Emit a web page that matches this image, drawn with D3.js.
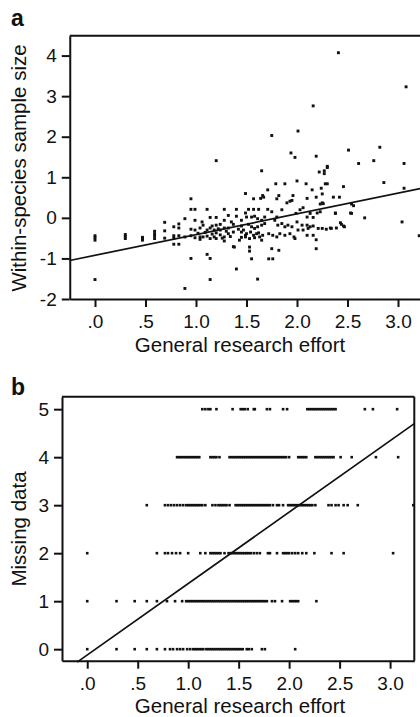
<!DOCTYPE html>
<html>
<head>
<meta charset="utf-8">
<script src="https://cdn.jsdelivr.net/npm/d3@7"></script>
<style>
  body { margin: 0; background: #fff; }
  text { font-family: "Liberation Sans", Arial, sans-serif; fill: #111; }
</style>
</head>
<body>
<script>

// panel a : general research effort vs within-species sample size
var pointsA = [
  [0.0,-0.44],[0.0,-0.49],[0.0,-0.55],[0.0,-1.52],
  [0.3,-0.41],[0.3,-0.46],[0.3,-0.51],
  [0.47,-0.48],[0.47,-0.51],[0.47,-0.55],
  [0.59,-0.33],[0.59,-0.39],[0.59,-0.45],[0.59,-0.51],
  [0.69,-0.11],[0.69,-0.32],[0.69,-0.5],
  [0.78,-0.22],[0.78,-0.44],[0.78,-0.5],[0.78,-0.65],
  [0.83,-0.15],[0.83,-0.25],[0.83,-0.44],[0.83,-0.65],
  [0.89,-1.74],[0.89,-0.02],[0.89,-0.47],
  [0.95,0.47],[0.95,0.21],[0.95,-0.28],[0.95,-0.44],[0.95,-1.0],
  [0.99,0.21],[0.99,-0.06],[0.99,-0.3],[0.99,-0.49],
  [1.02,-0.38],[1.04,-0.25],[1.04,-0.47],[1.04,-0.53],
  [1.06,-0.1],[1.07,-0.18],[1.07,-0.47],[1.09,-0.36],
  [1.11,0.21],[1.11,-0.3],[1.11,-0.45],[1.11,-0.9],
  [1.14,0.01],[1.14,-0.25],[1.14,-0.51],[1.14,-1.0],[1.14,-1.52],
  [1.16,-0.2],[1.16,-0.4],[1.18,-0.3],[1.18,-0.47],
  [1.2,1.41],[1.2,0.01],[1.2,-0.18],[1.2,-0.37],[1.2,-0.51],
  [1.22,-0.27],[1.24,-0.16],[1.24,-0.3],[1.24,-0.42],[1.26,-0.5],
  [1.28,0.21],[1.28,-0.06],[1.28,-0.25],[1.28,-0.47],[1.28,-0.57],
  [1.3,-0.33],[1.32,0.06],[1.32,-0.25],[1.32,-0.39],[1.34,-0.46],[1.35,-0.1],
  [1.37,-0.16],[1.37,-0.35],[1.37,-0.71],[1.38,-0.72],
  [1.4,0.21],[1.4,0.04],[1.4,-1.26],[1.42,-0.28],[1.43,-0.55],
  [1.45,-0.06],[1.45,-0.2],[1.45,-0.35],[1.45,-0.48],[1.47,-0.3],
  [1.49,0.6],[1.49,0.12],[1.49,-0.43],[1.49,-0.47],
  [1.5,0.02],[1.5,-0.39],[1.52,0.21],[1.52,-0.16],[1.53,-0.51],[1.53,-0.72],[1.53,-0.82],
  [1.54,-0.35],[1.55,0.02],[1.55,-0.22],[1.55,-1.01],[1.57,0.21],[1.57,0.47],[1.57,-0.43],
  [1.58,0.04],[1.58,-0.26],[1.58,-0.49],[1.6,-0.39],[1.61,-0.02],[1.61,-0.22],[1.61,-1.51],
  [1.62,0.21],[1.62,-0.37],[1.63,-0.47],[1.64,0.48],[1.65,1.16],[1.65,-0.06],[1.65,-0.18],
  [1.65,-0.55],[1.66,0.55],[1.66,-0.43],[1.67,0.51],[1.68,0.02],[1.68,-0.14],
  [1.71,0.69],[1.71,0.21],[1.72,-0.39],[1.72,-1.01],[1.75,2.03],[1.75,0.15],[1.75,-0.76],
  [1.76,-0.43],[1.76,-1.01],[1.78,-0.06],[1.79,0.84],[1.8,0.47],[1.8,0.02],[1.8,-0.47],
  [1.81,-0.18],[1.82,0.55],[1.82,-0.8],[1.83,-0.39],[1.85,0.2],[1.85,-0.14],
  [1.88,0.84],[1.88,-0.22],[1.88,-0.43],[1.9,0.37],[1.91,-0.18],[1.93,0.41],[1.93,-0.39],
  [1.94,1.6],[1.95,0.43],[1.95,-0.22],[1.96,0.55],[1.97,-0.47],[1.98,1.49],[1.98,-0.51],
  [1.99,0.11],[2.0,0.91],[2.0,-0.1],[2.01,2.14],[2.01,-0.3],[2.03,0.2],[2.05,-0.18],
  [2.06,0.25],[2.06,-0.3],[2.09,0.84],[2.1,0.48],[2.1,0.02],[2.1,-0.18],[2.1,-0.43],
  [2.11,-0.26],[2.13,0.11],[2.13,-0.22],[2.15,0.69],[2.16,2.76],[2.16,0.01],[2.16,-0.2],
  [2.16,-0.43],[2.19,1.52],[2.19,0.51],[2.19,-0.54],[2.19,-0.76],[2.2,0.12],[2.21,-0.26],
  [2.22,1.13],[2.23,0.34],[2.23,0.15],[2.24,0.73],[2.25,0.59],[2.25,0.37],[2.25,-0.26],
  [2.26,0.35],[2.27,1.16],[2.27,1.09],[2.28,0.84],[2.29,-0.28],[2.3,1.27],[2.3,1.24],
  [2.3,0.84],[2.33,-0.25],[2.34,-0.26],[2.36,0.51],[2.38,0.12],[2.38,0.11],[2.39,-0.25],
  [2.41,4.07],[2.42,0.51],[2.43,-0.12],[2.44,-0.16],[2.46,0.77],[2.46,-0.2],[2.47,-0.22],
  [2.51,1.67],[2.53,0.12],[2.54,0.34],[2.54,0.11],[2.56,0.3],[2.61,1.34],[2.67,0.0],
  [2.76,1.41],[2.82,1.74],[2.86,0.87],[3.04,-0.1],[3.06,1.34],[3.06,0.73],[3.08,3.23],
  [3.21,-0.44]
];
var fitA = [[-0.25,-1.05],[3.3,0.76]];
var ticksXA = [0, 0.5, 1, 1.5, 2, 2.5, 3];
var ticksYA = [-2, -1, 0, 1, 2, 3, 4];

// panel b : general research effort vs missing data, one row per count
var missing0 = [0.0,0.29,0.47,0.59,0.69,0.77,0.82,0.85,0.89,0.92,0.95,0.99,1.02,1.05,1.07,1.09,
  1.11,1.13,1.15,1.18,1.2,1.22,1.24,1.26,1.28,1.3,1.32,1.34,1.36,1.38,1.4,1.42,1.44,1.46,1.48,
  1.5,1.52,1.54,1.58,1.6,1.63,1.73,1.76,2.06];
var missing1 = [0.0,0.29,0.47,0.59,0.69,0.79,0.87,0.94,0.98,1.0,1.02,1.04,1.06,1.08,1.1,1.12,
  1.14,1.16,1.18,1.2,1.22,1.24,1.26,1.28,1.3,1.32,1.34,1.36,1.38,1.4,1.42,1.44,1.46,1.48,1.5,
  1.52,1.54,1.56,1.58,1.6,1.62,1.64,1.66,1.68,1.7,1.72,1.74,1.76,1.78,1.83,1.86,1.93,2.01,
  2.03,2.05,2.07,2.09,2.27];
var missing2 = [0.0,0.69,0.77,0.8,0.84,0.88,0.92,1.0,1.12,1.17,1.22,1.24,1.26,1.28,1.3,1.32,
  1.36,1.4,1.42,1.44,1.46,1.48,1.5,1.52,1.54,1.56,1.58,1.6,1.62,1.65,1.68,1.71,1.79,1.81,1.88,
  1.94,1.96,1.98,2.0,2.03,2.06,2.09,2.13,2.17,2.25,2.42,2.54,3.03];
var missing3 = [0.59,0.77,0.8,0.83,0.86,0.89,0.92,0.95,0.98,1.0,1.02,1.04,1.06,1.08,1.1,1.12,
  1.14,1.17,1.24,1.27,1.3,1.32,1.34,1.36,1.38,1.41,1.47,1.49,1.51,1.53,1.55,1.57,1.59,1.61,
  1.63,1.65,1.67,1.69,1.71,1.73,1.75,1.77,1.79,1.81,1.84,1.88,1.9,1.94,1.99,2.01,2.03,2.05,
  2.07,2.09,2.11,2.13,2.15,2.17,2.19,2.21,2.23,2.26,2.39,2.42,2.46,2.49,2.54,2.58,2.68,3.23];
var missing4 = [0.89,0.91,0.93,0.95,0.97,0.99,1.01,1.03,1.05,1.07,1.09,1.11,1.22,1.24,1.26,
  1.28,1.31,1.41,1.43,1.45,1.47,1.49,1.51,1.53,1.55,1.57,1.59,1.61,1.63,1.65,1.67,1.69,1.71,
  1.73,1.75,1.77,1.79,1.81,1.83,1.85,1.87,1.89,1.91,1.93,1.95,1.97,2.0,2.09,2.11,2.13,2.15,
  2.17,2.26,2.28,2.3,2.32,2.34,2.36,2.38,2.4,2.42,2.44,2.51,2.62,2.86,3.08];
var missing5 = [1.14,1.17,1.2,1.22,1.28,1.44,1.52,1.54,1.56,1.59,1.65,1.66,1.78,1.81,1.94,1.98,
  2.18,2.2,2.22,2.24,2.26,2.28,2.3,2.32,2.34,2.36,2.38,2.4,2.42,2.44,2.46,2.75,2.83,3.07];
var fitB = [[-0.1,-0.27],[3.24,4.7]];
var ticksXB = [0, 0.5, 1, 1.5, 2, 2.5, 3];
var ticksYB = [0, 1, 2, 3, 4, 5];

var width = 420,
    height = 717;

var svg = d3.select("body").append("svg")
    .attr("width", width)
    .attr("height", height);

var fmtX = function(d) { return d3.format(".1f")(d).replace(/^0/, ""); };

var xA = d3.scaleLinear().domain([-0.25, 3.25]).range([69.75, 423.25]),
    yA = d3.scaleLinear().domain([-2, 4.49]).range([299, 35.7]);

var xB = d3.scaleLinear().domain([-0.25, 3.24]).range([62, 414.3]),
    yB = d3.scaleLinear().domain([-0.24, 5.26]).range([660.7, 396.7]);

var rowsB = [missing0, missing1, missing2, missing3, missing4, missing5];
var pointsB = [];
rowsB.forEach(function(row, k) {
  row.forEach(function(v) { pointsB.push([v, k]); });
});

function styleAxis(g) {
  g.selectAll("path, line").attr("stroke", "#111").attr("stroke-width", 2);
  g.selectAll("text").attr("fill", "#111").style("font-size", "19px");
}

function drawPanel(x, y, pts, fit, ticksX, ticksY, size, boxRight, opts) {
  var g = svg.append("g");

  // frame: top edge (and right edge when it is on screen)
  g.append("line")
    .attr("x1", x.range()[0]).attr("x2", boxRight)
    .attr("y1", y.range()[1]).attr("y2", y.range()[1])
    .attr("stroke", "#111").attr("stroke-width", 2);
  if (boxRight < width) {
    g.append("line")
      .attr("x1", boxRight).attr("x2", boxRight)
      .attr("y1", y.range()[1]).attr("y2", y.range()[0])
      .attr("stroke", "#111").attr("stroke-width", 2);
  }

  g.append("g")
    .attr("transform", "translate(0," + y.range()[0] + ")")
    .call(d3.axisBottom(x).tickValues(ticksX).tickFormat(fmtX)
      .tickSize(8).tickSizeOuter(0).tickPadding(7.5))
    .call(styleAxis);

  g.append("g")
    .attr("transform", "translate(" + x.range()[0] + ",0)")
    .call(d3.axisLeft(y).tickValues(ticksY).tickFormat(function(d) { return String(d); })
      .tickSize(8).tickSizeOuter(0).tickPadding(5))
    .call(styleAxis);

  g.append("g").selectAll("rect")
    .data(pts)
    .enter().append("rect")
      .attr("x", function(d) { return x(d[0]) - size / 2; })
      .attr("y", function(d) { return y(d[1]) - size / 2; })
      .attr("width", size)
      .attr("height", size)
      .attr("fill", "#111");

  g.append("path")
    .datum(fit)
    .attr("fill", "none")
    .attr("stroke", "#111")
    .attr("stroke-width", 1.7)
    .attr("d", d3.line().x(function(d) { return x(d[0]); }).y(function(d) { return y(d[1]); }));

  g.append("text")
    .attr("x", opts.xTitleX)
    .attr("y", y.range()[0] + opts.xTitleGap)
    .attr("text-anchor", "middle")
    .style("font-size", "20.5px")
    .text("General research effort");

  g.append("text")
    .attr("transform", "translate(26," + opts.yTitleY + ")rotate(-90)")
    .attr("text-anchor", "middle")
    .style("font-size", "20.5px")
    .text(opts.yTitle);

  g.append("text")
    .attr("x", 11)
    .attr("y", opts.labelY)
    .style("font-size", "23px")
    .style("font-weight", "bold")
    .text(opts.label);
}

drawPanel(xA, yA, pointsA, fitA, ticksXA, ticksYA, 2.9, 430,
  {xTitleX: 240, xTitleGap: 53, yTitleY: 168, yTitle: "Within-species sample size", label: "a", labelY: 26});

drawPanel(xB, yB, pointsB, fitB, ticksXB, ticksYB, 2.6, 414.3,
  {xTitleX: 240, xTitleGap: 51.8, yTitleY: 529, yTitle: "Missing data", label: "b", labelY: 395});

</script>
</body>
</html>
